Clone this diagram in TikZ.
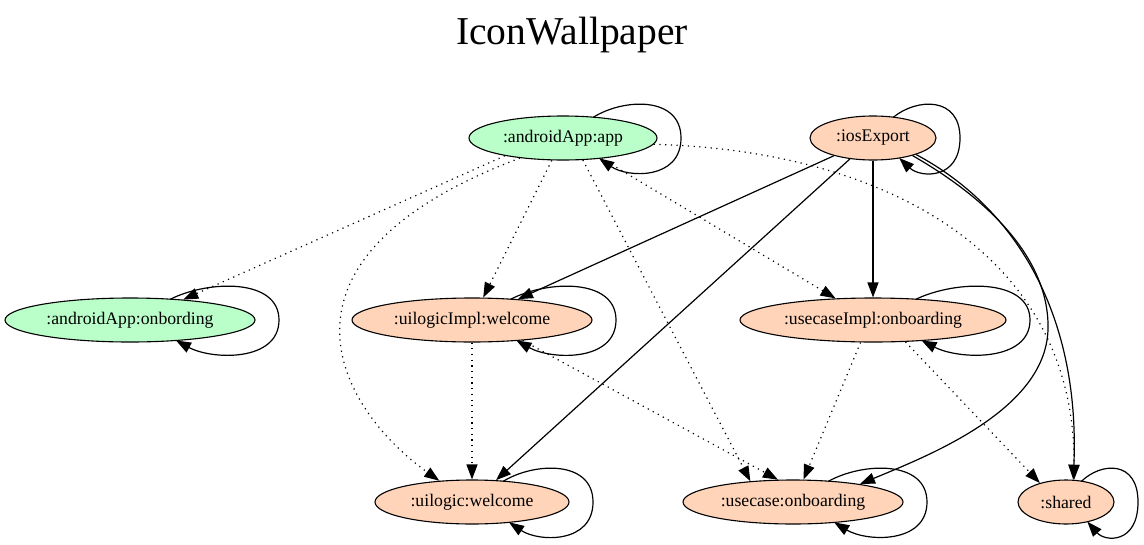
\documentclass[tikz,border=0pt]{standalone}
\usepackage{fontspec}
\setmainfont{Liberation Serif}
\usetikzlibrary{arrows.meta,calc,shapes.geometric}
\definecolor{gfill}{HTML}{BAFFC9}
\definecolor{ofill}{HTML}{FFD4B8}
\tikzset{
  mod/.style={ellipse, draw=black, line width=1.1pt, inner sep=0pt, minimum height=44pt, font=\fontsize{17.7}{20}\selectfont},
  andr/.style={mod, fill=gfill},
  oth/.style={mod, fill=ofill},
  edgeS/.style={draw=black, line width=1.2pt, -{Triangle[length=15pt,width=11pt]}},
  edgeD/.style={edgeS, dash pattern=on 1.2pt off 4.5pt},
}
\newcommand\selfloop[2]{%
  \draw[edgeS] ($(#1.center)+({0.32*#2},-20.6)$)
   .. controls ($(#1.center)+({0.32*#2+0.35*(0.68*#2+24)},-40)$) and ($(#1.center)+({#2+24},-42)$)
   .. ($(#1.center)+({#2+24},0)$)
   .. controls ($(#1.center)+({#2+24},42)$) and ($(#1.center)+({0.32*#2+0.35*(0.68*#2+24)+4},40)$)
   .. ($(#1.center)+({0.32*#2+6},{22*sqrt(1-((0.32*#2+6)/#2)^2)})$);}
\begin{document}
\begin{tikzpicture}[x=1pt,y=-1pt]
\useasboundingbox (0,0) rectangle (1144,544);
\node[anchor=base, font=\fontsize{39.5}{44}\selectfont] (title) at (572,44) {IconWallpaper};
\node[andr, minimum width=188pt] (app) at (563,138) {:androidApp:app};
\node[oth, minimum width=126pt] (ios) at (873,138) {:iosExport};
\node[andr, minimum width=250pt] (aob) at (130,320) {:androidApp:onbording};
\node[oth, minimum width=240pt] (ui) at (472,320) {:uilogicImpl:welcome};
\node[oth, minimum width=266pt] (uci) at (873,320) {:usecaseImpl:onboarding};
\node[oth, minimum width=194pt] (uw) at (472,502) {:uilogic:welcome};
\node[oth, minimum width=220pt] (us) at (793,502) {:usecase:onboarding};
\node[oth, minimum width=96pt] (sh) at (1066,502) {:shared};
% self loops
\selfloop{app}{94}
\selfloop{ios}{63}
\selfloop{aob}{125}
\selfloop{ui}{120}
\selfloop{uci}{133}
\selfloop{uw}{97}
\selfloop{us}{110}
\selfloop{sh}{48}
% androidApp:app edges
\draw[edgeD] (app.-163.4) -- (aob.21);
\draw[edgeD] (app) -- (ui);
\draw[edgeD] (app.-155.5) .. controls (250,260) and (340,410) .. (uw.147);
\draw[edgeD] (app.-48.5) -- (us.154);
\draw[edgeD] (app.-28.6) -- (uci.150);
\draw[edgeD] (app.-4) .. controls (880,150) and (1075,250) .. (sh.70);
% iosExport edges
\draw[edgeS] (ios) -- (ui);
\draw[edgeS] (ios) -- (uw);
\draw[edgeS] (ios.south) -- (uci.north);
\draw[edgeS] (ios.-24) .. controls (990,200) and (1050,260) .. (1048,330) .. controls (1045,410) and (930,455) .. (us.15);
\draw[edgeS] (ios.-21) .. controls (1020,210) and (1080,320) .. (sh.72);
% second row edges
\draw[edgeD] (ui.south) -- (uw.north);
\draw[edgeD] (ui.-22.8) -- (us.124.5);
\draw[edgeD] (uci.-119.6) -- (us.65.5);
\draw[edgeD] (uci.-34.9) -- (sh.144.6);
\end{tikzpicture}
\end{document}
